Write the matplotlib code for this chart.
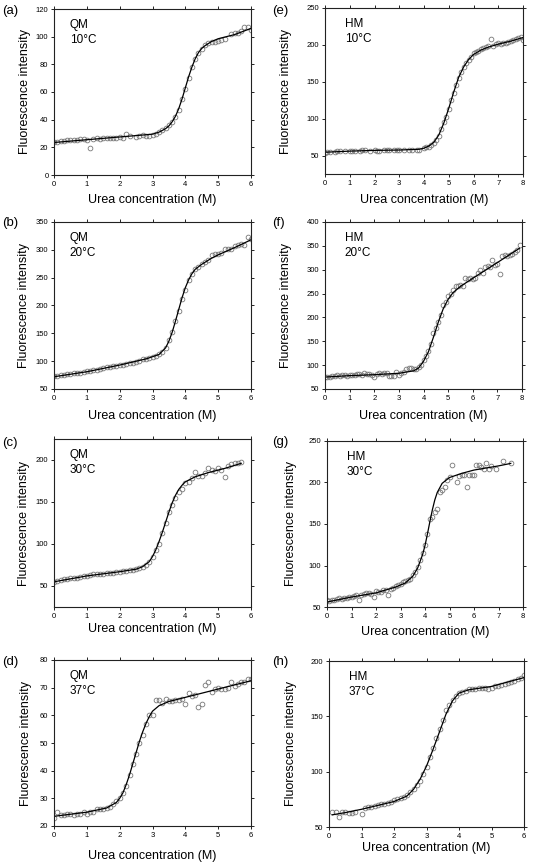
import matplotlib
matplotlib.use('Agg')
from matplotlib import pyplot as plt

plt.rcParams['font.family'] = ['Liberation Sans', 'DejaVu Sans']

# ---- (a) QM 10°C ----
a_x = [0, 0.1, 0.2, 0.3, 0.4, 0.5, 0.6, 0.7, 0.8, 0.9, 1.0, 1.1, 1.2, 1.3, 1.4, 1.5, 1.6, 1.7, 1.8, 1.9,
       2.0, 2.1, 2.2, 2.3, 2.5, 2.6, 2.7, 2.8, 2.9, 3.0, 3.1, 3.2, 3.3, 3.4, 3.5, 3.6, 3.7, 3.8, 3.9,
       4.0, 4.1, 4.2, 4.3, 4.4, 4.5, 4.6, 4.7, 4.8, 4.9, 5.0, 5.1, 5.2, 5.4, 5.5, 5.6, 5.7, 5.8, 5.9, 6.0]
a_y = [24, 24, 24.5, 24.5, 25, 25, 25, 25.5, 26, 26, 25, 19.5, 26, 26.5, 26, 26.5, 27, 27, 27, 26.5,
       27.5, 27, 29.5, 28, 27.5, 28, 29, 28, 28.5, 29, 30, 31, 32.5, 34, 36, 38.5, 42, 47, 55,
       62, 70, 78, 84, 88, 91, 94, 95.5, 96, 96.5, 97, 97.5, 98, 102, 102.5, 103, 104, 107, 107, 105]
a_fit_x = [0, 1, 2, 3, 3.2, 3.4, 3.5, 3.6, 3.7, 3.8, 3.9, 4.0, 4.1, 4.2, 4.3, 4.4, 4.5, 4.6, 4.8, 5.0, 5.5, 6.0]
a_fit_y = [23.5, 25.5, 27.5, 29.5, 31, 33.5, 35.5, 38.5, 42.5, 48, 55, 63, 71, 78, 84, 88.5, 91.5, 93.5, 96.5, 98.5, 101.5, 106]

# ---- (e) HM 10°C ----
e_x = [0, 0.1, 0.2, 0.4, 0.5, 0.6, 0.8, 1.0, 1.1, 1.2, 1.4, 1.5, 1.6, 1.8, 2.0, 2.1, 2.2, 2.4, 2.5, 2.6, 2.8, 2.9,
       3.0, 3.2, 3.4, 3.5, 3.7, 3.8, 4.0, 4.1, 4.2, 4.3, 4.4, 4.5, 4.6, 4.7, 4.8, 4.9, 5.0, 5.1, 5.2, 5.3, 5.4,
       5.5, 5.6, 5.7, 5.8, 5.9, 6.0, 6.1, 6.2, 6.3, 6.4, 6.5, 6.6, 6.7, 6.8, 6.9, 7.0, 7.1, 7.2, 7.3, 7.4, 7.5,
       7.6, 7.7, 7.8, 7.9, 8.0]
e_y = [54, 55, 55, 55, 55.5, 56, 56.5, 55.5, 56, 56.5, 56.5, 57, 57, 56.5, 57, 56, 56.5, 57, 57, 57, 57.5, 58,
       57.5, 57, 57.5, 57, 58, 57, 60, 61, 62, 64, 67, 71, 77, 86, 95, 102, 113, 125, 135, 146, 155,
       163, 170, 175, 180, 184, 189, 190, 192, 194, 196, 197, 198, 208, 199, 201, 203, 201, 202, 203, 204, 205,
       206, 208, 210, 211, 206]
e_fit_x = [0, 1, 2, 3, 3.8, 4.0, 4.2, 4.4, 4.6, 4.8, 5.0, 5.2, 5.4, 5.6, 5.8, 6.0, 6.3, 6.6, 7.0, 7.5, 8.0]
e_fit_y = [54.5, 56, 57, 57.5, 58.5, 60, 63, 68, 78, 94, 114, 136, 156, 170, 180, 187, 193, 197, 201, 205, 210]

# ---- (b) QM 20°C ----
b_x = [0, 0.1, 0.2, 0.3, 0.4, 0.5, 0.6, 0.7, 0.8, 0.9, 1.0, 1.1, 1.2, 1.3, 1.4, 1.5, 1.6, 1.7, 1.8, 1.9,
       2.0, 2.1, 2.2, 2.3, 2.4, 2.5, 2.6, 2.7, 2.8, 2.9, 3.0, 3.1, 3.2, 3.3, 3.4, 3.5, 3.6, 3.7, 3.8, 3.9,
       4.0, 4.1, 4.2, 4.3, 4.4, 4.5, 4.6, 4.7, 4.8, 4.9, 5.0, 5.1, 5.2, 5.3, 5.4, 5.5, 5.6, 5.7, 5.8, 5.9, 6.0]
b_y = [73, 74, 75, 76, 76.5, 77, 78, 78, 79, 81, 82, 83, 84, 85, 86, 88, 89, 89.5, 91, 92,
       93, 94, 95, 96, 97, 99, 100, 103, 103, 106, 107, 109, 112, 116, 124, 138, 152, 172, 191, 212,
       227, 246, 256, 265, 270, 275, 279, 282, 290, 293, 292, 295, 302, 302, 302, 306, 308, 310, 309, 323, 320]
b_fit_x = [0, 1, 2, 2.8, 3.2, 3.4, 3.5, 3.6, 3.7, 3.8, 3.9, 4.0, 4.1, 4.2, 4.3, 4.5, 4.8, 5.0, 5.5, 6.0]
b_fit_y = [72, 81, 93, 104, 112, 124, 136, 152, 172, 193, 214, 232, 246, 257, 265, 274, 285, 291, 304, 318]

# ---- (f) HM 20°C ----
f_x = [0, 0.1, 0.2, 0.3, 0.4, 0.5, 0.6, 0.7, 0.8, 0.9, 1.0, 1.1, 1.2, 1.3, 1.4, 1.5, 1.6, 1.7, 1.8, 1.9,
       2.0, 2.1, 2.2, 2.3, 2.4, 2.5, 2.6, 2.7, 2.8, 2.9, 3.0, 3.1, 3.2, 3.3, 3.4, 3.5, 3.6, 3.7, 3.8, 3.9,
       4.0, 4.1, 4.2, 4.3, 4.4, 4.5, 4.6, 4.7, 4.8, 4.9, 5.0, 5.1, 5.2, 5.3, 5.4, 5.5, 5.6, 5.7, 5.8, 5.9,
       6.0, 6.1, 6.2, 6.3, 6.4, 6.5, 6.6, 6.7, 6.8, 6.9, 7.0, 7.1, 7.2, 7.3, 7.4, 7.5, 7.6, 7.7, 7.8, 7.9]
f_y = [75, 75, 76, 77, 78, 79, 78, 79, 79, 78, 79, 80, 80, 81, 81, 80, 83, 82, 81, 80,
       76, 82, 83, 82, 83, 84, 77, 77, 78, 86, 80, 84, 86, 91, 93, 95, 91, 92, 96, 100,
       110, 120, 130, 145, 168, 178, 190, 205, 225, 232, 245, 250, 258, 265, 266, 268, 266, 283, 280, 283,
       280, 282, 294, 300, 293, 305, 307, 305, 320, 310, 313, 290, 328, 330, 328, 330, 333, 337, 342, 352]
f_fit_x = [0, 1, 2, 3, 3.6, 3.8, 4.0, 4.2, 4.4, 4.6, 4.8, 5.0, 5.2, 5.5, 6.0, 7.0, 7.9]
f_fit_y = [75, 78, 80, 83, 88, 94, 108, 128, 158, 190, 218, 238, 252, 265, 282, 315, 345]

# ---- (c) QM 30°C ----
c_x = [0, 0.1, 0.2, 0.3, 0.4, 0.5, 0.6, 0.7, 0.8, 0.9, 1.0, 1.1, 1.2, 1.3, 1.4, 1.5, 1.6, 1.7, 1.8, 1.9,
       2.0, 2.1, 2.2, 2.3, 2.4, 2.5, 2.6, 2.7, 2.8, 2.9, 3.0, 3.1, 3.2, 3.3, 3.4, 3.5, 3.6, 3.7, 3.8, 3.9,
       4.0, 4.1, 4.2, 4.3, 4.4, 4.5, 4.6, 4.7, 4.8, 4.9, 5.0, 5.1, 5.2, 5.3, 5.4, 5.5, 5.6, 5.7]
c_y = [55, 56, 57, 58, 58.5, 59, 60, 60, 61, 61.5, 62, 63, 64, 64, 64, 64.5, 65, 65.5, 66, 66.5,
       67, 68, 68, 68.5, 69, 70, 71, 73, 75, 79, 84, 93, 100, 113, 125, 138, 147, 155, 162, 166,
       173, 174, 178, 186, 181, 181, 184, 191, 188, 187, 190, 188, 180, 193, 195, 196, 197, 198]
c_fit_x = [0, 1, 2, 2.5, 2.7, 2.9, 3.0, 3.1, 3.2, 3.3, 3.4, 3.5, 3.6, 3.7, 3.8, 3.9, 4.0, 4.3, 4.7, 5.2, 5.7]
c_fit_y = [55, 62, 67, 70, 73, 79, 85, 93, 103, 114, 126, 138, 149, 158, 165, 170, 174, 180, 185, 190, 196]

# ---- (g) HM 30°C ----
g_x = [0, 0.1, 0.2, 0.3, 0.4, 0.5, 0.6, 0.7, 0.8, 0.9, 1.0, 1.1, 1.2, 1.3, 1.4, 1.5, 1.6, 1.7, 1.8, 1.9,
       2.0, 2.1, 2.2, 2.3, 2.4, 2.5, 2.6, 2.7, 2.8, 2.9, 3.0, 3.1, 3.2, 3.3, 3.4, 3.5, 3.6, 3.7, 3.8, 3.9,
       4.0, 4.1, 4.2, 4.3, 4.4, 4.5, 4.6, 4.7, 4.8, 4.9, 5.0, 5.1, 5.3, 5.4, 5.5, 5.6, 5.7, 5.8, 5.9, 6.0,
       6.1, 6.2, 6.3, 6.4, 6.5, 6.6, 6.7, 6.9, 7.2, 7.5]
g_y = [58, 57, 58, 59, 60, 61, 60, 61, 61, 62, 62, 63, 64, 58, 65, 66, 67, 67, 66, 62,
       69, 68, 68, 70, 70, 65, 72, 73, 75, 76, 78, 80, 81, 82, 84, 88, 92, 98, 107, 115,
       125, 138, 156, 158, 164, 168, 189, 191, 195, 203, 207, 221, 201, 208, 209, 209, 195, 209, 209, 209,
       221, 221, 219, 216, 223, 216, 220, 216, 226, 223]
g_fit_x = [0, 1, 2, 2.8, 3.2, 3.5, 3.7, 3.9, 4.0, 4.1, 4.2, 4.3, 4.4, 4.5, 4.7, 5.0, 5.5, 6.0, 7.0, 7.5]
g_fit_y = [56, 62, 67, 74, 79, 87, 97, 113, 124, 138, 153, 167, 179, 188, 199, 206, 211, 215, 220, 223]

# ---- (d) QM 37°C ----
d_x = [0, 0.1, 0.2, 0.3, 0.4, 0.5, 0.6, 0.7, 0.8, 0.9, 1.0, 1.1, 1.2, 1.3, 1.4, 1.5, 1.6, 1.7, 1.8, 1.9,
       2.0, 2.1, 2.2, 2.3, 2.4, 2.5, 2.6, 2.7, 2.8, 2.9, 3.0, 3.1, 3.2, 3.3, 3.4, 3.5, 3.6, 3.7, 3.8, 3.9,
       4.0, 4.1, 4.2, 4.3, 4.4, 4.5, 4.6, 4.7, 4.8, 4.9, 5.0, 5.1, 5.2, 5.3, 5.4, 5.5, 5.6, 5.7, 5.8, 5.9, 6.0]
d_y = [23, 25, 24, 24, 24.5, 24.5, 24, 24.5, 24.5, 25, 24.5, 25, 25, 26, 26, 26, 26.5, 27, 28, 29,
       30, 32, 34.5, 38.5, 42.5, 46, 50, 53, 57, 60, 60, 65.5, 65.5, 64.5, 66, 65, 65, 65.5, 65.5, 66,
       64, 68, 67, 67.5, 63, 64, 71, 72, 68.5, 69.5, 70, 69.5, 69.5, 70, 72, 70.5, 71.5, 72, 72, 73, 73]
d_fit_x = [0, 1, 1.6, 1.9, 2.0, 2.1, 2.2, 2.3, 2.4, 2.5, 2.6, 2.7, 2.8, 2.9, 3.0, 3.2, 3.5, 4.0, 5.0, 6.0]
d_fit_y = [23.5, 25, 26.5, 28.5, 30, 32, 35, 38.5, 42.5, 46.5, 50.5, 54, 57, 59.5, 61.5, 63.5, 65, 66.5, 69.5, 72.5]

# ---- (h) HM 37°C ----
h_x = [0.1, 0.2, 0.3, 0.4, 0.5, 0.6, 0.7, 0.8, 1.0, 1.1, 1.2, 1.3, 1.4, 1.5, 1.6, 1.7, 1.8, 1.9,
       2.0, 2.1, 2.2, 2.3, 2.4, 2.5, 2.6, 2.7, 2.8, 2.9, 3.0, 3.1, 3.2, 3.3, 3.4, 3.5, 3.6, 3.7, 3.8, 3.9,
       4.0, 4.1, 4.2, 4.3, 4.4, 4.5, 4.6, 4.7, 4.8, 4.9, 5.0, 5.1, 5.2, 5.3, 5.4, 5.5, 5.6, 5.7, 5.8, 5.9, 6.0]
h_y = [64, 64, 59, 64, 64, 63, 63, 64, 62, 67, 68, 68, 69, 70, 71, 71, 72, 73,
       74, 75, 76, 77, 79, 82, 84, 88, 92, 98, 104, 113, 121, 130, 139, 147, 156, 160, 165, 168,
       171, 172, 173, 175, 175, 175, 176, 176, 176, 175, 176, 177, 177, 178, 179, 180, 181, 182, 184, 185, 187]
h_fit_x = [0.1, 0.5, 1, 2, 2.4, 2.6, 2.8, 3.0, 3.2, 3.4, 3.6, 3.8, 4.0, 4.3, 5.0, 6.0]
h_fit_y = [61, 63, 66, 73, 78, 84, 93, 105, 120, 136, 152, 164, 171, 174, 177, 185]

# panel label, protein, temperature, data, fit, ylim, yticks, xmax
panels = [
    ('(a)', 'QM', '10°C', a_x, a_y, a_fit_x, a_fit_y, (0, 120), [0, 20, 40, 60, 80, 100, 120], 6),
    ('(e)', 'HM', '10°C', e_x, e_y, e_fit_x, e_fit_y, (25, 250), [50, 100, 150, 200, 250], 8),
    ('(b)', 'QM', '20°C', b_x, b_y, b_fit_x, b_fit_y, (50, 350), [50, 100, 150, 200, 250, 300, 350], 6),
    ('(f)', 'HM', '20°C', f_x, f_y, f_fit_x, f_fit_y, (50, 400), [50, 100, 150, 200, 250, 300, 350, 400], 8),
    ('(c)', 'QM', '30°C', c_x, c_y, c_fit_x, c_fit_y, (25, 225), [50, 100, 150, 200], 6),
    ('(g)', 'HM', '30°C', g_x, g_y, g_fit_x, g_fit_y, (50, 250), [50, 100, 150, 200, 250], 8),
    ('(d)', 'QM', '37°C', d_x, d_y, d_fit_x, d_fit_y, (20, 80), [20, 30, 40, 50, 60, 70, 80], 6),
    ('(h)', 'HM', '37°C', h_x, h_y, h_fit_x, h_fit_y, (50, 200), [50, 100, 150, 200], 6),
]

W, H = 544.0, 864.0
# axes boxes in pixels: left, top, right, bottom
boxes = [(54, 9, 251, 175), (325, 8, 523, 174),
         (54, 222, 251, 389), (325, 222, 522, 389),
         (54, 439, 251, 607), (327, 441, 523, 607),
         (54, 660, 251, 826), (329, 661, 524, 827)]
ylabel_x = [-0.116, -0.167, -0.121, -0.167, -0.124, -0.154, -0.111, -0.164]
xlabel_y = [-0.114, -0.120, -0.126, -0.126, -0.095, -0.114, -0.145, -0.090]
label_pos = [(2, 11), (272, 11), (2, 223), (272, 223), (2, 443), (272, 442), (2, 662), (272, 662)]

fig = plt.figure(figsize=(5.44, 8.64), dpi=100)

for i, p in enumerate(panels):
    tag, prot, temp, xs, ys, fx, fy, ylim, yticks, xmax = p
    l, t, r, b = boxes[i]
    ax = fig.add_axes([l / W, 1 - b / H, (r - l) / W, (b - t) / H])
    ax.plot(xs, ys, 'o', mfc='none', mec='#777777', ms=3.4, mew=0.6)
    ax.plot(fx, fy, '-', color='black', lw=0.9)
    ax.set_xlim(0, xmax)
    ax.set_ylim(*ylim)
    ax.set_xticks(list(range(0, xmax + 1)))
    ax.set_yticks(yticks)
    ax.tick_params(direction='out', length=2.5, width=0.6, labelsize=5.5, pad=1.5,
                   top=True, right=True)
    for s in ax.spines.values():
        s.set_linewidth(0.8)
        s.set_color('#222222')
    ax.set_xlabel('Urea concentration (M)', fontsize=9)
    ax.set_ylabel('Fluorescence intensity', fontsize=9)
    ax.xaxis.set_label_coords(0.5, xlabel_y[i])
    ax.yaxis.set_label_coords(ylabel_x[i], 0.5)
    tx = 0.08 if i % 2 == 0 else 0.10
    ax.text(tx, 0.905, prot, transform=ax.transAxes, fontsize=8.5, va='center')
    ax.text(tx, 0.815, temp, transform=ax.transAxes, fontsize=8.5, va='center')
    lx, ly = label_pos[i]
    fig.text(lx / W, 1 - ly / H, tag, fontsize=9.5, va='center', ha='left')

fig.savefig('out.png', dpi=100)
